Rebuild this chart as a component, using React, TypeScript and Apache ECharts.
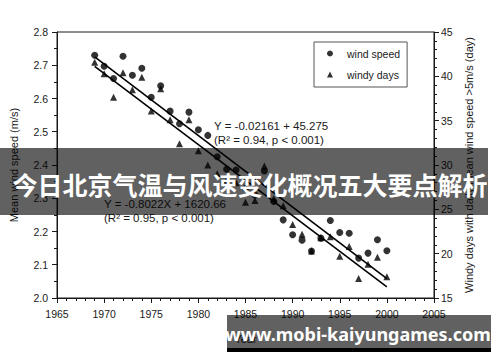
import React, { useEffect, useRef } from "react";
import * as echarts from "echarts";

const years = [1969, 1970, 1971, 1972, 1973, 1974, 1975, 1976, 1977, 1978, 1979, 1980, 1981, 1982, 1983, 1984, 1985, 1986, 1987, 1988, 1989, 1990, 1991, 1992, 1993, 1994, 1995, 1996, 1997, 1998, 1999, 2000];
const windSpeed = [2.73, 2.697, 2.66, 2.727, 2.67, 2.691, 2.604, 2.638, 2.562, 2.524, 2.559, 2.506, 2.489, 2.425, 2.387, 2.385, 2.33, 2.31, 2.382, 2.29, 2.235, 2.19, 2.174, 2.141, 2.18, 2.233, 2.197, 2.195, 2.12, 2.135, 2.175, 2.142];
const windyDays = [41.6, 40.3, 37.65, 40.4, 38.5, 39.9, 36.1, 38.6, 35.1, 32.4, 35.1, 31.6, 30.0, 29.0, 28.3, 28.0, 25.8, 26.0, 29.9, 26.2, 25.4, 23.3, 22.2, 20.3, 21.8, 21.9, 19.7, 20.8, 17.2, 18.8, 19.6, 17.4];
const trendYears = [1969, 2000];
const speedTrend = [2.725, 2.058];
const daysTrend = [41.13, 16.26];

const seriesNames = ["wind speed", "windy days"];
const axisNames = ["Year", "Mean wind speed (m/s)", "Windy days with daily mean wind speed >5m/s (day)"];
const speedEquation = ["Y = -0.02161 + 45.275", "(R² = 0.94, p < 0.001)"];
const daysEquation = ["Y = -0.8022X + 1620.66", "(R² = 0.95, p < 0.001)"];
const bannerTitle = "今日北京气温与风速变化概况五大要点解析";
const bannerUrl = "www.mobi-kaiyungames.com";

const FONT = "'Liberation Sans', Arial, Helvetica, sans-serif";
const INK = "#1a1a1a";

export default function App() {
  const ref = useRef<HTMLDivElement>(null);
  useEffect(() => {
    if (!ref.current) return;
    const chart = echarts.init(ref.current, undefined, { renderer: "svg" });
    const axisCommon = {
      axisLine: { show: true, onZero: false, lineStyle: { color: INK, width: 1 } },
      axisTick: { show: true, inside: false, length: 5, lineStyle: { color: INK } },
      minorTick: { show: true, length: 3, lineStyle: { color: INK } },
      splitLine: { show: false },
      minorSplitLine: { show: false },
      nameTextStyle: { fontFamily: FONT, fontSize: 11, color: INK },
    };
    chart.setOption({
      animation: false,
      backgroundColor: "#fff",
      textStyle: { fontFamily: FONT },
      grid: {
        left: 51,
        top: 32,
        right: 66,
        bottom: 64,
        show: true,
        borderColor: INK,
        borderWidth: 1,
        backgroundColor: "transparent",
      },
      legend: {
        data: [
          { name: seriesNames[0], icon: "circle" },
          { name: seriesNames[1], icon: "triangle" },
        ],
        orient: "vertical",
        left: 314,
        top: 42,
        itemWidth: 6,
        itemHeight: 6,
        itemGap: 8,
        padding: [5, 7, 6, 13],
        borderColor: "#555",
        borderWidth: 1,
        backgroundColor: "#fff",
        textStyle: { fontFamily: FONT, fontSize: 10.5, color: INK, lineHeight: 13, padding: [0, 0, 0, 9] },
      },
      xAxis: {
        type: "value",
        min: 1965,
        max: 2005,
        interval: 5,
        name: axisNames[0],
        nameLocation: "middle",
        nameGap: 35,
        ...axisCommon,
        minorTick: { ...axisCommon.minorTick, splitNumber: 5 },
        axisLabel: {
          fontFamily: FONT,
          fontSize: 10.5,
          color: INK,
          margin: 10,
          formatter: (v: number) => String(v),
        },
      },
      yAxis: [
        {
          type: "value",
          min: 2.0,
          max: 2.8,
          interval: 0.1,
          position: "left",
          name: axisNames[1],
          nameLocation: "middle",
          nameRotate: 90,
          nameGap: 38,
          ...axisCommon,
          minorTick: { ...axisCommon.minorTick, splitNumber: 2 },
          axisLabel: {
            fontFamily: FONT,
            fontSize: 10.5,
            color: INK,
            margin: 9,
            formatter: (v: number) => v.toFixed(1),
          },
        },
        {
          type: "value",
          min: 15,
          max: 45,
          interval: 5,
          position: "right",
          name: axisNames[2],
          nameLocation: "middle",
          nameRotate: 90,
          nameGap: 26,
          ...axisCommon,
          minorTick: { ...axisCommon.minorTick, splitNumber: 5 },
          axisLabel: { fontFamily: FONT, fontSize: 10.5, color: INK, margin: 7 },
        },
      ],
      series: [
        {
          name: "speed trend",
          type: "line",
          yAxisIndex: 0,
          data: trendYears.map((y, i) => [y, speedTrend[i]]),
          symbol: "none",
          lineStyle: { color: "#000", width: 1.6 },
          z: 2,
        },
        {
          name: "days trend",
          type: "line",
          yAxisIndex: 1,
          data: trendYears.map((y, i) => [y, daysTrend[i]]),
          symbol: "none",
          lineStyle: { color: "#000", width: 1.6 },
          z: 2,
        },
        {
          name: seriesNames[0],
          type: "scatter",
          yAxisIndex: 0,
          symbol: "circle",
          symbolSize: 7,
          itemStyle: { color: "#000" },
          data: years.map((y, i) => [y, windSpeed[i]]),
          z: 3,
        },
        {
          name: seriesNames[1],
          type: "scatter",
          yAxisIndex: 1,
          symbol: "triangle",
          symbolSize: 7,
          itemStyle: { color: "#000" },
          data: years.map((y, i) => [y, windyDays[i]]),
          z: 3,
        },
      ],
      graphic: [
        {
          type: "text",
          z: 50,
          style: { x: 214, y: 126, text: speedEquation[0], fontFamily: FONT, fontSize: 11.5, fill: INK, verticalAlign: "middle" },
        },
        {
          type: "text",
          z: 50,
          style: { x: 214, y: 140, text: speedEquation[1], fontFamily: FONT, fontSize: 11.5, fill: INK, verticalAlign: "middle" },
        },
        {
          type: "text",
          z: 50,
          style: { x: 104, y: 204, text: daysEquation[0], fontFamily: FONT, fontSize: 11.5, fill: INK, verticalAlign: "middle" },
        },
        {
          type: "text",
          z: 50,
          style: { x: 104, y: 218, text: daysEquation[1], fontFamily: FONT, fontSize: 11.5, fill: INK, verticalAlign: "middle" },
        },
        {
          type: "rect",
          z: 100,
          shape: { x: 0, y: 148, width: 488, height: 67 },
          style: { fill: "rgba(0,0,0,0.62)" },
        },
        {
          type: "text",
          z: 101,
          style: {
            x: 250,
            y: 184,
            text: bannerTitle,
            fontFamily: "'Noto Sans CJK SC', sans-serif",
            fontWeight: "bold",
            fontSize: 25,
            fill: "#fff",
            align: "center",
            verticalAlign: "middle",
          },
        },
        {
          type: "rect",
          z: 100,
          shape: { x: 227, y: 315, width: 264, height: 33 },
          style: { fill: "rgba(0,0,0,0.62)" },
        },
        {
          type: "rect",
          z: 100,
          shape: { x: 227, y: 348, width: 264, height: 4 },
          style: { fill: "#000" },
        },
        {
          type: "text",
          z: 101,
          style: {
            x: 358,
            y: 334,
            text: bannerUrl,
            fontFamily: "'Noto Sans', 'DejaVu Sans', sans-serif",
            fontWeight: "bold",
            fontSize: 18,
            fill: "#fff",
            align: "center",
            verticalAlign: "middle",
          },
        },
      ],
    });
    return () => chart.dispose();
  }, []);
  return (
    <div
      ref={ref}
      style={{ position: "absolute", left: 0, top: 0, width: 500, height: 362, background: "#fff" }}
    />
  );
}
